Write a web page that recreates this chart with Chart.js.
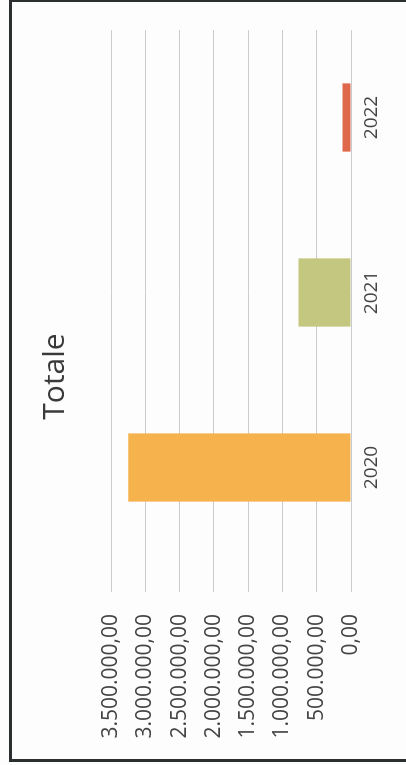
<!DOCTYPE html>
<html>
<head>
<meta charset="utf-8">
<script src="https://cdn.jsdelivr.net/npm/chart.js@4.4.1/dist/chart.umd.min.js"></script>
<style>
  html, body { margin: 0; padding: 0; background: #fdfdfe; }
  body { width: 406px; height: 765px; overflow: hidden; position: relative; }
  #wrap {
    position: absolute; left: 0; top: 0; width: 760px; height: 396px;
    transform-origin: 0 0;
    transform: translate(10px, 760px) rotate(-90deg);
  }
  #frame {
    position: absolute; left: 9px; top: -1px; width: 400px; height: 757px;
    border-left: 3px solid #2b2f2f; border-top: 3px solid #2b2f2f; border-bottom: 3px solid #2b2f2f;
    pointer-events: none;
  }
</style>
</head>
<body>
<div id="wrap"><canvas id="totChart" width="760" height="396"></canvas></div>
<div id="frame"></div>
<script>
"use strict";

var anni = ["2020", "2021", "2022"];
var totali = [3250000, 765000, 125000];
var colori = ["#F5B24D", "#C4C77F", "#E0684A"];
var tickMax = 3500000;
var tickStep = 500000;

function formatoIt(v) {
    var intero = Math.round(v).toString().replace(/\B(?=(\d{3})+(?!\d))/g, ".");
    return intero + ",00";
}

var ctx = document.getElementById("totChart").getContext("2d");
var chart = new Chart(ctx, {
    type: "bar",
    data: {
        labels: anni,
        datasets: [{
            data: totali,
            backgroundColor: colori,
            borderWidth: 0,
            categoryPercentage: 1,
            barPercentage: 0.39
        }]
    },
    options: {
        responsive: false,
        animation: false,
        layout: { padding: { left: 7, right: 0, top: 0, bottom: 0 } },
        plugins: {
            legend: { display: false },
            tooltip: { enabled: false },
            title: {
                display: true,
                text: "Totale",
                color: "#3a3a3a",
                font: { family: "Open Sans", size: 30, weight: "normal" },
                padding: { top: 27, bottom: 38 }
            }
        },
        scales: {
            x: {
                grid: { display: false, drawTicks: false },
                border: { display: false },
                ticks: {
                    color: "#444",
                    padding: 9,
                    font: { family: "Open Sans", size: 19 }
                },
                afterFit: function (s) { s.height = 55; }
            },
            y: {
                min: 0,
                max: tickMax,
                grid: { color: "#cacbcf", lineWidth: 1, tickLength: 37 },
                border: { display: false },
                ticks: {
                    stepSize: tickStep,
                    color: "#444",
                    padding: 22,
                    font: { family: "Open Sans", size: 21 },
                    callback: function (v) { return formatoIt(v); }
                },
                afterFit: function (s) { s.width = 198; }
            },
            yDx: {
                position: "right",
                display: true,
                grid: { display: false, drawTicks: false },
                border: { display: false },
                ticks: { display: false },
                afterFit: function (s) { s.width = 30; }
            }
        }
    }
});
</script>
</body>
</html>
